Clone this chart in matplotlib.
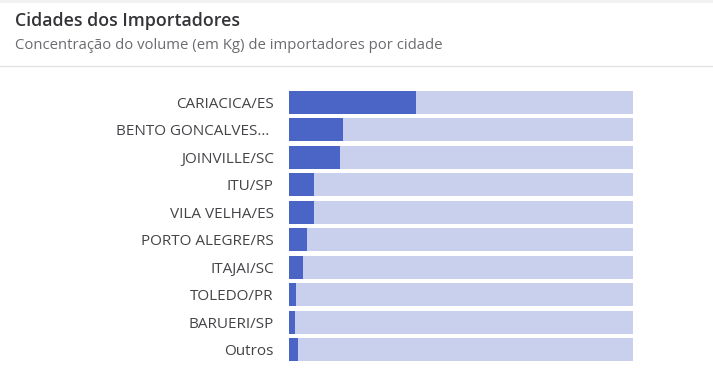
import matplotlib.pyplot as plt

cidades = ['CARIACICA/ES', 'BENTO GONCALVES… ', 'JOINVILLE/SC', 'ITU/SP', 'VILA VELHA/ES',
           'PORTO ALEGRE/RS', 'ITAJAI/SC', 'TOLEDO/PR', 'BARUERI/SP', 'Outros']
# share of volume (%)
volume_pct = [36.9, 15.7, 14.8, 7.3, 7.3, 5.2, 4.1, 2.0, 1.7, 2.6]
total_pct = [100] * len(cidades)

plt.rcParams['font.family'] = ['Open Sans', 'DejaVu Sans']

fig = plt.figure(figsize=(7.13, 3.71), dpi=100)
fig.patch.set_facecolor('white')

# light strip at the top and separator line under the header
fig.add_artist(plt.Rectangle((0, 1 - 3 / 371), 1, 3 / 371, transform=fig.transFigure,
                             color='#f2f2f5', lw=0))
fig.add_artist(plt.Line2D([0, 1], [1 - 65.5 / 371] * 2, transform=fig.transFigure,
                          color='#e3e3e6', lw=1))

fig.text(15 / 713, 1 - 21 / 371, 'Cidades dos Importadores', fontsize=12.8,
         fontweight='semibold', color='#333338', va='center', ha='left')
fig.text(15 / 713, 1 - 45.5 / 371, 'Concentração do volume (em Kg) de importadores por cidade',
         fontsize=10.7, color='#6b6b70', va='center', ha='left')

ax = fig.add_axes([289 / 713, 1 - 361 / 371, 344 / 713, 270 / 371])
pos = list(range(len(cidades)))
ax.barh(pos, total_pct, height=0.82, color='#c9d0ed', lw=0)
ax.barh(pos, volume_pct, height=0.82, color='#4a65c6', lw=0)

ax.set_xlim(0, 100)
ax.set_ylim(len(cidades) - 1 + 0.41, -0.41)
ax.set_yticks(pos)
ax.set_yticklabels(cidades, fontsize=11, color='#444448')
ax.tick_params(axis='y', length=0, pad=11)
ax.set_xticks([])
for s in ax.spines.values():
    s.set_visible(False)

fig.savefig('out.png', dpi=100)
